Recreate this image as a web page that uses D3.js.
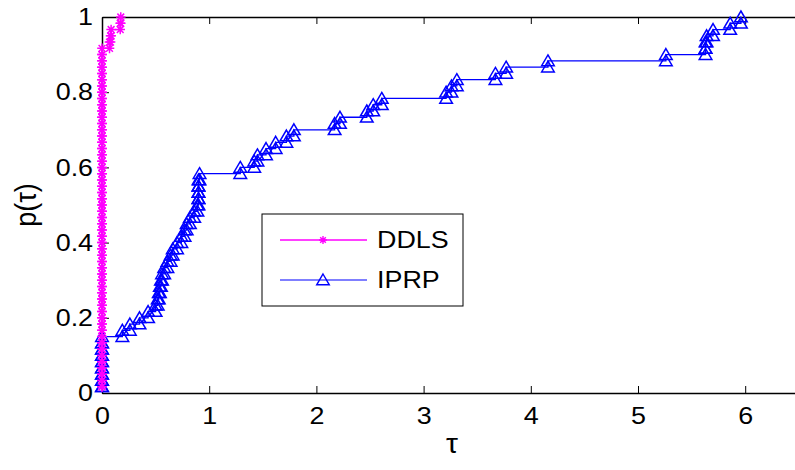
<!DOCTYPE html>
<html>
<head>
<meta charset="utf-8">
<script src="https://cdn.jsdelivr.net/npm/d3@7"></script>
<style>
  body { margin: 0; background: #fff; }
  svg { display: block; font-family: "Liberation Sans", Arial, Helvetica, sans-serif; }
</style>
</head>
<body>
<div id="chart"></div>
<script>
// performance profile data: sorted tau (log2 ratio) per problem, 60 problems
const nProblems = 60;
const ddlsTau = [
  0,0,0,0,0,0,0,0,0,0, 0,0,0,0,0,0,0,0,0,0,
  0,0,0,0,0,0,0,0,0,0, 0,0,0,0,0,0,0,0,0,0,
  0,0,0,0,0,0,0,0,0,0, 0,0,0,0,0,
  0.07, 0.08, 0.085, 0.17, 0.175
];
const iprpTau = [
  0,0,0,0,0,0,0,0,0,
  0.19, 0.26, 0.35, 0.43, 0.50, 0.52, 0.53, 0.54, 0.55, 0.56,
  0.58, 0.61, 0.64, 0.66, 0.70, 0.74, 0.77, 0.79, 0.82, 0.86,
  0.89, 0.90, 0.90, 0.90, 0.90, 0.91,
  1.29, 1.42, 1.45, 1.53, 1.62, 1.72, 1.79,
  2.17, 2.22, 2.47, 2.53, 2.61,
  3.21, 3.26, 3.31, 3.67, 3.77, 4.16, 5.26,
  5.63, 5.63, 5.64, 5.70, 5.86, 5.96
];
const xTicks = [0, 1, 2, 3, 4, 5, 6];
const yTicks = [0, 0.2, 0.4, 0.6, 0.8, 1];
const seriesNames = ["DDLS", "IPRP"];

const width = 795, height = 470;
const margin = { left: 102, top: 17, bottom: 77 };
const stretch = 'scale(1.12,1)'; // text in the picture is a bit wide

const svg = d3.select('#chart').append('svg')
  .attr('width', width)
  .attr('height', height);

const x = d3.scaleLinear().domain([0, 6.56]).range([margin.left, margin.left + 6.56 * 107.2]);
const y = d3.scaleLinear().domain([0, 1]).range([height - margin.bottom, margin.top]);

// turn sorted taus into stair vertices
function stairs(taus) {
  const pts = [];
  taus.forEach((t, i) => {
    if (i > 0) pts.push([t, i / nProblems]);
    pts.push([t, (i + 1) / nProblems]);
  });
  return pts;
}

// axes (ticks inward)
svg.append('g')
  .attr('transform', `translate(0,${y(0)})`)
  .call(d3.axisBottom(x).tickValues(xTicks).tickSizeInner(-7).tickSizeOuter(0).tickPadding(14).tickFormat(String));
svg.append('g')
  .attr('transform', `translate(0,${y(1)})`)
  .call(d3.axisTop(x).tickValues(xTicks).tickSizeInner(-7).tickSizeOuter(0).tickFormat(''));
svg.append('g')
  .attr('transform', `translate(${x(0)},0)`)
  .call(d3.axisLeft(y).tickValues(yTicks).tickSizeInner(-7).tickSizeOuter(0).tickPadding(8).tickFormat(String));

svg.selectAll('.domain').attr('stroke', '#000').attr('stroke-width', 1.5);
svg.selectAll('.tick line').attr('stroke', '#000').attr('stroke-width', 1);
svg.selectAll('.tick text').attr('font-size', 24).attr('fill', '#000')
  .attr('font-family', '"Liberation Sans", Arial, sans-serif')
  .attr('transform', stretch);

// axis labels
svg.append('text')
  .attr('transform', `translate(452,453) ${stretch}`)
  .attr('text-anchor', 'middle')
  .attr('font-size', 27)
  .text('τ');
svg.append('text')
  .attr('transform', `translate(36,${y(0.5)}) rotate(-90) scale(1,1.12)`)
  .attr('text-anchor', 'middle')
  .attr('font-size', 27)
  .text('p(τ)');

const line = d3.line().x(d => x(d[0])).y(d => y(d[1]));

function starPath(s) {
  const d = s * 0.7071;
  return `M${-s},0L${s},0M0,${-s}L0,${s}M${-d},${-d}L${d},${d}M${-d},${d}L${d},${-d}`;
}
function triPath(s) {
  return `M0,${-s}L${s * 1.05},${s * 0.8}L${-s * 1.05},${s * 0.8}Z`;
}

// IPRP
const iprpPts = stairs(iprpTau);
svg.append('path')
  .datum(iprpPts)
  .attr('fill', 'none')
  .attr('stroke', '#0000ff')
  .attr('stroke-width', 1.3)
  .attr('d', line);
svg.append('g').selectAll('path')
  .data(iprpPts)
  .enter()
  .append('path')
  .attr('transform', d => `translate(${x(d[0])},${y(d[1])})`)
  .attr('d', triPath(6))
  .attr('fill', 'none')
  .attr('stroke', '#0000ff')
  .attr('stroke-width', 1.5);

// DDLS
const ddlsPts = stairs(ddlsTau);
svg.append('path')
  .datum(ddlsPts)
  .attr('fill', 'none')
  .attr('stroke', '#ff00ff')
  .attr('stroke-width', 1.3)
  .attr('d', line);
svg.append('g').selectAll('path')
  .data(ddlsPts)
  .enter()
  .append('path')
  .attr('transform', d => `translate(${x(d[0])},${y(d[1])})`)
  .attr('d', starPath(4.8))
  .attr('fill', 'none')
  .attr('stroke', '#ff00ff')
  .attr('stroke-width', 1.5);

// legend
const lg = svg.append('g');
lg.append('rect')
  .attr('x', 262).attr('y', 214)
  .attr('width', 201).attr('height', 92)
  .attr('fill', '#fff')
  .attr('stroke', '#000')
  .attr('stroke-width', 1);
const colors = ['#ff00ff', '#0000ff'];
seriesNames.forEach((name, i) => {
  const ly = 240 + i * 40;
  lg.append('line')
    .attr('x1', 280).attr('x2', 367)
    .attr('y1', ly).attr('y2', ly)
    .attr('stroke', colors[i])
    .attr('stroke-width', i === 0 ? 1.5 : 1.2);
  lg.append('path')
    .attr('transform', `translate(323,${ly})`)
    .attr('d', i === 0 ? starPath(4) : triPath(6))
    .attr('fill', 'none')
    .attr('stroke', colors[i])
    .attr('stroke-width', 1.4);
  lg.append('text')
    .attr('transform', `translate(377,${ly + 8}) ${stretch}`)
    .attr('font-size', 24)
    .text(name);
});
</script>
</body>
</html>
